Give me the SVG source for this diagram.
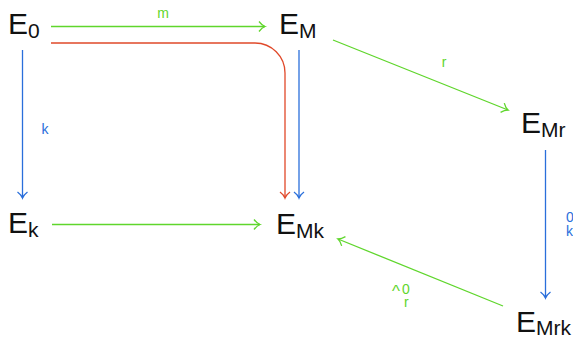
<svg xmlns="http://www.w3.org/2000/svg" width="573" height="337" viewBox="0 0 573 337">
<style>
.n{font-family:"Liberation Sans",Arial,sans-serif;font-size:30px;fill:#111}
.s{font-size:21px}
.l{font-family:"Liberation Sans",Arial,sans-serif;font-size:14px}
.g{stroke:#5fd62c;fill:none;stroke-width:1.3}
.b{stroke:#2a6fdb;fill:none;stroke-width:1.3}
.r{stroke:#e0492a;fill:none;stroke-width:1.3}
</style>
<defs>
<marker id="ag" markerWidth="12" markerHeight="12" refX="9" refY="6" orient="auto" markerUnits="userSpaceOnUse"><path d="M3,1 Q6,5 9,6 Q6,7 3,11" fill="none" stroke="#5fd62c" stroke-width="1.3"/></marker>
<marker id="ab" markerWidth="12" markerHeight="12" refX="9" refY="6" orient="auto" markerUnits="userSpaceOnUse"><path d="M3,1 Q6,5 9,6 Q6,7 3,11" fill="none" stroke="#2a6fdb" stroke-width="1.3"/></marker>
<marker id="ar" markerWidth="12" markerHeight="12" refX="9" refY="6" orient="auto" markerUnits="userSpaceOnUse"><path d="M3,1 Q6,5 9,6 Q6,7 3,11" fill="none" stroke="#e0492a" stroke-width="1.3"/></marker>
</defs>
<g id="connectors">
<line class="g" x1="51" y1="26.5" x2="265" y2="26.5" marker-end="url(#ag)"/>
<text class="l" x="163" y="18" text-anchor="middle" fill="#5fd62c">m</text>
<path class="r" d="M51,43 H255 A30,30 0 0 1 285,73 V198" marker-end="url(#ar)"/>
<line class="b" x1="299" y1="50" x2="299" y2="198" marker-end="url(#ab)"/>
<line class="b" x1="22.5" y1="50" x2="22.5" y2="198" marker-end="url(#ab)"/>
<text class="l" x="45" y="134" text-anchor="middle" fill="#2a6fdb">k</text>
<line class="g" x1="52" y1="224.5" x2="260" y2="224.5" marker-end="url(#ag)"/>
<line class="g" x1="333" y1="40" x2="508" y2="110" marker-end="url(#ag)"/>
<text class="l" x="444" y="67" text-anchor="middle" fill="#5fd62c">r</text>
<line class="b" x1="545.5" y1="150" x2="545.5" y2="298" marker-end="url(#ab)"/>
<text class="l" x="566" y="222" fill="#2a6fdb">0</text>
<text class="l" x="566" y="236" fill="#2a6fdb">k</text>
<line class="g" x1="503" y1="306" x2="338" y2="239" marker-end="url(#ag)"/>
<text class="l" x="392" y="297" fill="#5fd62c" style="font-size:17px">^</text>
<text class="l" x="402" y="294" fill="#5fd62c">0</text>
<text class="l" x="404" y="307" fill="#5fd62c">r</text>
</g>
<g id="E0"><text class="n" x="8" y="34">E<tspan class="s" dy="4">0</tspan></text></g>
<g id="EM"><text class="n" x="279" y="34">E<tspan class="s" dy="4">M</tspan></text></g>
<g id="Ek"><text class="n" x="8" y="233">E<tspan class="s" dy="4">k</tspan></text></g>
<g id="EMk"><text class="n" x="276" y="234">E<tspan class="s" dy="4">Mk</tspan></text></g>
<g id="EMr"><text class="n" x="521" y="133">E<tspan class="s" dy="4">Mr</tspan></text></g>
<g id="EMrk"><text class="n" x="516" y="332">E<tspan class="s" dy="3">Mrk</tspan></text></g>
</svg>
